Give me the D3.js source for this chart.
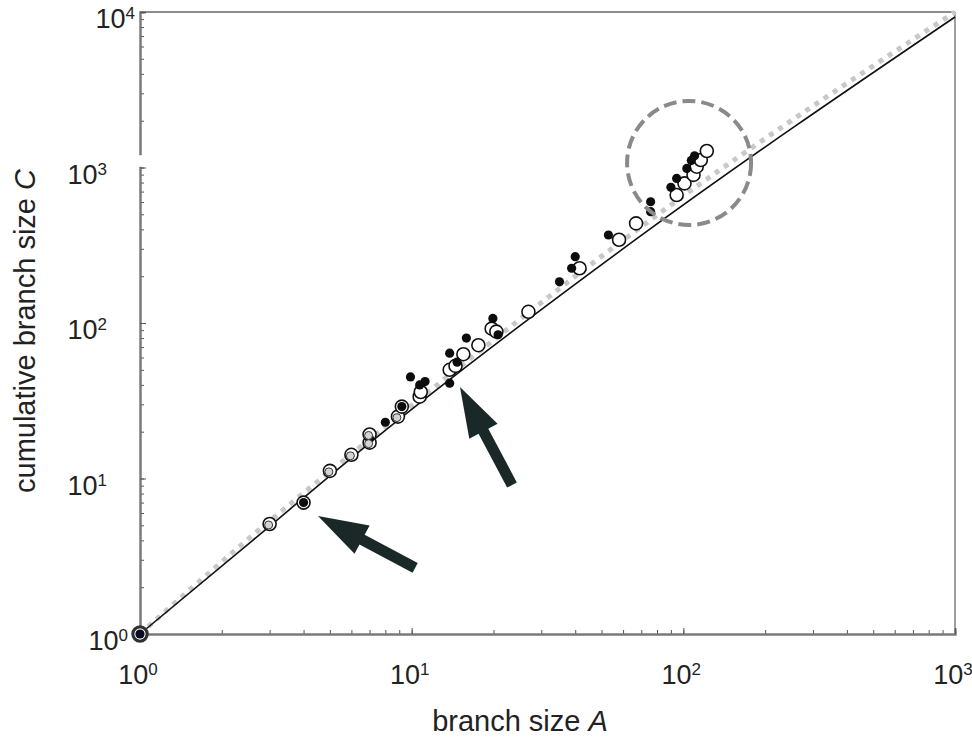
<!DOCTYPE html>
<html>
<head>
<meta charset="utf-8">
<script src="https://cdn.jsdelivr.net/npm/d3@7"></script>
<style>
  body { margin: 0; background: #fff; }
  svg text { font-family: "Liberation Sans", Arial, sans-serif; fill: #222; }
</style>
</head>
<body>
<svg width="972" height="737"></svg>
<script>
// values (branch size A, cumulative branch size C)
var openPts = [[1,1],[3,5.1],[4,7],[5,11.2],[6,14.2],[7,17],[7,19.2],[8.9,25],[9.2,29],
  [10.7,33.6],[10.8,36],[13.8,50],[14.5,53],[15.5,63],[17.6,72],[19.7,92],[20.5,88],
  [26.9,118],[41.5,225],[58,343],[67,437],[94.5,665],[101,790],[109,896],[112,1012],
  [116,1117],[122,1277]];
var filledPts = [[1,1],[4,7],[7,18],[8,23],[9.2,29],[9.9,45],[10.7,40],[11.2,42],
  [13.8,41],[13.8,64],[14.7,56],[15.9,80],[19.9,107],[20.8,84],[35,184],[38.8,225],
  [40,267],[53,368],[75.8,520],[75.8,602],[90,746],[94.5,851],[103,987],[107,1110],
  [110,1190]];
var greyPts = [[3,5.1],[5,11.2],[6,14.2],[7,17],[7,19.2],[8.9,25]];

// fitted curves
var solidLine = [[1,1],[2.6,4.0],[7.0,16.9],[69,359],[1000,9290]];
var dottedLine = [[1,1],[2.47,4.0],[6.6,16.4],[82,510],[1000,10000]];

// annotations
var circleMark = [105, 1070];
var arrows = [
  { tip: [4.52, 5.74], tail: [10.3, 2.66] },
  { tip: [15.06, 38.7], tail: [23.4, 9.08] }
];

var xDecades = [1, 10, 100, 1000];
var yDecades = [1, 10, 100, 1000, 10000];

var svg = d3.select('svg');

var x = d3.scaleLog().domain([1, 1000]).range([140, 955]);
var y = d3.scaleLog().domain([1, 10000]).range([634, 12]);

// frame (top and right)
svg.append('line').attr('x1', 140).attr('x2', 955).attr('y1', 12).attr('y2', 12)
  .attr('stroke', '#8c8c8c').attr('stroke-width', 2);
svg.append('line').attr('x1', 955).attr('x2', 955).attr('y1', 12).attr('y2', 634)
  .attr('stroke', '#a0a0a0').attr('stroke-width', 2);

// bottom axis: minor + decade ticks pointing inward
var gx = svg.append('g').attr('transform', 'translate(0,634)');
gx.call(d3.axisBottom(x).tickValues(x.ticks()).tickSize(-4).tickFormat(''));
gx.append('g').call(d3.axisBottom(x).tickValues(xDecades).tickSize(-6).tickFormat(''));
gx.selectAll('.domain').attr('stroke', '#7a7a7a').attr('stroke-width', 2);
gx.selectAll('.tick line').attr('stroke', '#555');

var gy = svg.append('g').attr('transform', 'translate(140,0)');
gy.call(d3.axisLeft(y).tickValues(y.ticks()).tickSize(-4).tickFormat(''));
gy.append('g').call(d3.axisLeft(y).tickValues(yDecades).tickSize(-6).tickFormat(''));
gy.selectAll('.domain').attr('stroke', '#7a7a7a').attr('stroke-width', 2);
gy.selectAll('.tick line').attr('stroke', '#555');
// break in the left spine just above 10^3
svg.append('rect').attr('x', 136).attr('width', 8)
  .attr('y', y(1200)).attr('height', y(1010) - y(1200)).attr('fill', '#fff');

// tick labels 10^n
function powLabel(sel) {
  sel.append('tspan').text('10');
  sel.append('tspan').attr('font-size', 17).attr('dy', -9).text(function(d) {
    return Math.round(Math.log10(d));
  });
}
svg.append('g').selectAll('text').data(xDecades).join('text')
  .attr('x', function(d) { return x(d) - 2; })
  .attr('y', 684)
  .attr('text-anchor', 'middle')
  .attr('font-size', 27)
  .each(function(d) { powLabel(d3.select(this)); });

var yShift = [21, 0, 0, 0, 28];
svg.append('g').selectAll('text').data(yDecades).join('text')
  .attr('x', function(d, i) { return 107 + yShift[i]; })
  .attr('y', function(d) { return y(d) + 16; })
  .attr('text-anchor', 'end')
  .attr('font-size', 27)
  .each(function(d) { powLabel(d3.select(this)); });

// axis titles
var xt = svg.append('text').attr('x', 520).attr('y', 731)
  .attr('text-anchor', 'middle').attr('font-size', 29);
xt.append('tspan').text('branch size ');
xt.append('tspan').attr('font-style', 'italic').text('A');

var yt = svg.append('text').attr('transform', 'translate(35,331) rotate(-90)')
  .attr('text-anchor', 'middle').attr('font-size', 29);
yt.append('tspan').text('cumulative branch size ');
yt.append('tspan').attr('font-style', 'italic').text('C');

// lines
var line = d3.line()
  .x(function(d) { return x(d[0]); })
  .y(function(d) { return y(d[1]); })
  .curve(d3.curveMonotoneX);

svg.append('path').datum(dottedLine).attr('d', line)
  .attr('fill', 'none').attr('stroke', '#c8c8c8')
  .attr('stroke-width', 5).attr('stroke-dasharray', '5,6');
svg.append('path').datum(solidLine).attr('d', line)
  .attr('fill', 'none').attr('stroke', '#111').attr('stroke-width', 1.6);

// points
svg.append('g').selectAll('circle').data(openPts).join('circle')
  .attr('cx', function(d) { return x(d[0]); })
  .attr('cy', function(d) { return y(d[1]); })
  .attr('r', 6.5)
  .attr('fill', '#fff').attr('stroke', '#111').attr('stroke-width', 1.6);

svg.append('g').selectAll('circle').data(filledPts).join('circle')
  .attr('cx', function(d) { return x(d[0]); })
  .attr('cy', function(d) { return y(d[1]); })
  .attr('r', 4.6)
  .attr('fill', '#0d0d0d');

svg.append('g').selectAll('circle').data(greyPts).join('circle')
  .attr('cx', function(d) { return x(d[0]) - 1; })
  .attr('cy', function(d) { return y(d[1]) + 1; })
  .attr('r', 4)
  .attr('fill', '#d4d4d4').attr('stroke', '#333').attr('stroke-width', 1);

// origin marker
svg.append('circle').attr('cx', x(1)).attr('cy', y(1)).attr('r', 7.5)
  .attr('fill', 'none').attr('stroke', '#333').attr('stroke-width', 2.5);
svg.append('circle').attr('cx', x(1)).attr('cy', y(1)).attr('r', 4)
  .attr('fill', '#0a0a20');

// dashed circle around the largest branches
svg.append('circle').attr('cx', x(circleMark[0])).attr('cy', y(circleMark[1]))
  .attr('r', 62)
  .attr('fill', 'none').attr('stroke', '#8a8a8a')
  .attr('stroke-width', 4).attr('stroke-dasharray', '13,6');

// arrows
function arrowPath(a) {
  var tx = x(a.tip[0]), ty = y(a.tip[1]);
  var bx = x(a.tail[0]), by = y(a.tail[1]);
  var len = Math.hypot(bx - tx, by - ty);
  var ux = (bx - tx) / len, uy = (by - ty) / len;
  var nx = -uy, ny = ux;
  var hl = 50, hw = 16, sw = 5.5;
  var hx = tx + ux * hl, hy = ty + uy * hl;
  var pts = [
    [tx, ty],
    [hx + nx * hw, hy + ny * hw],
    [hx + nx * sw, hy + ny * sw],
    [bx + nx * sw, by + ny * sw],
    [bx - nx * sw, by - ny * sw],
    [hx - nx * sw, hy - ny * sw],
    [hx - nx * hw, hy - ny * hw]
  ];
  return 'M' + pts.map(function(p) { return p[0] + ',' + p[1]; }).join('L') + 'Z';
}
svg.append('g').selectAll('path').data(arrows).join('path')
  .attr('d', arrowPath)
  .attr('fill', '#1b2828');
</script>
</body>
</html>
